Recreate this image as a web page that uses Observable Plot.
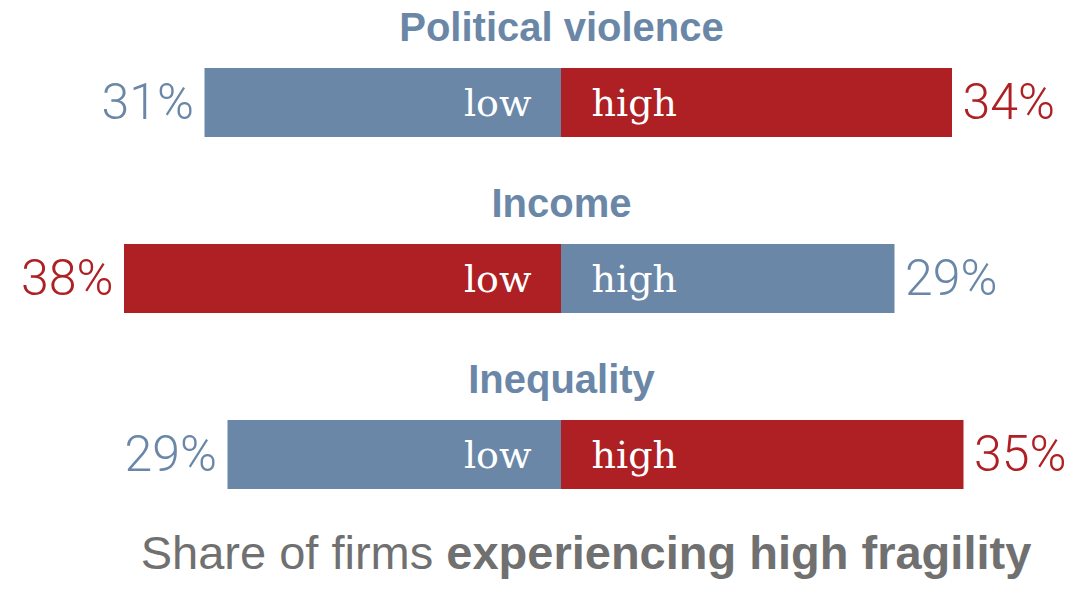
<!DOCTYPE html>
<html>
<head>
<meta charset="utf-8">
<script src="https://cdn.jsdelivr.net/npm/d3@7"></script>
<script src="https://cdn.jsdelivr.net/npm/@observablehq/plot@0.6"></script>
<style>
  html, body { margin: 0; padding: 0; background: #fff; }
  #chart { width: 1066px; }
  #caption {
    width: 1066px; text-align: center;
    font-family: "Liberation Sans", Arial, sans-serif;
    font-size: 47px; line-height: 56px; color: #707070;
    padding-left: 106px; box-sizing: border-box; white-space: nowrap;
  }
  #caption b { font-weight: 700; }
</style>
</head>
<body>
<div id="chart"></div>
<div id="caption">Share of firms <b>experiencing high fragility</b></div>
<script>
const categories = ["Political violence", "Income", "Inequality"];
const lowValues = [31, 38, 29];
const highValues = [34, 29, 35];
const sideLabels = ["low", "high"];

const BLUE = "#6a87a8";
const RED = "#ae2023";

const rows = [];
categories.forEach((c, i) => {
  const lo = lowValues[i], hi = highValues[i];
  rows.push({category: c, side: sideLabels[0], value: -lo, pct: lo, fill: lo > hi ? RED : BLUE});
  rows.push({category: c, side: sideLabels[1], value: hi, pct: hi, fill: hi > lo ? RED : BLUE});
});
const lowRows = rows.filter(d => d.side === "low");
const highRows = rows.filter(d => d.side === "high");
const titles = categories.map(c => ({category: c}));

const chart = Plot.plot({
  width: 1066,
  height: 525,
  margin: 0,
  x: {axis: null, domain: [-40, 40], range: [101, 1021]},
  y: {axis: null, domain: categories, range: [14.5, 542.5], paddingInner: 0.608, paddingOuter: 0.304},
  marks: [
    Plot.barX(rows, {y: "category", x1: d => 0, x2: "value", fill: "fill", inset: 0}),
    Plot.text(lowRows, {y: "category", x: d => 0, text: "side", textAnchor: "end", dx: -30, dy: 1,
      fill: "white", fontFamily: "DejaVu Serif", fontSize: 38}),
    Plot.text(highRows, {y: "category", x: d => 0, text: "side", textAnchor: "start", dx: 30, dy: 1,
      fill: "white", fontFamily: "DejaVu Serif", fontSize: 38}),
    Plot.text(lowRows, {y: "category", x: "value", text: d => d.pct + "%", textAnchor: "end", dx: -11,
      fill: "fill", fontFamily: "Roboto", fontWeight: 300, fontSize: 50}),
    Plot.text(highRows, {y: "category", x: "value", text: d => d.pct + "%", textAnchor: "start", dx: 10,
      fill: "fill", fontFamily: "Roboto", fontWeight: 300, fontSize: 50}),
    Plot.text(titles, {y: "category", x: d => 0, text: "category", dy: -75, dx: 0,
      fill: BLUE, fontFamily: "Liberation Sans", fontWeight: 700, fontSize: 40})
  ]
});
document.getElementById("chart").appendChild(chart);
</script>
</body>
</html>
